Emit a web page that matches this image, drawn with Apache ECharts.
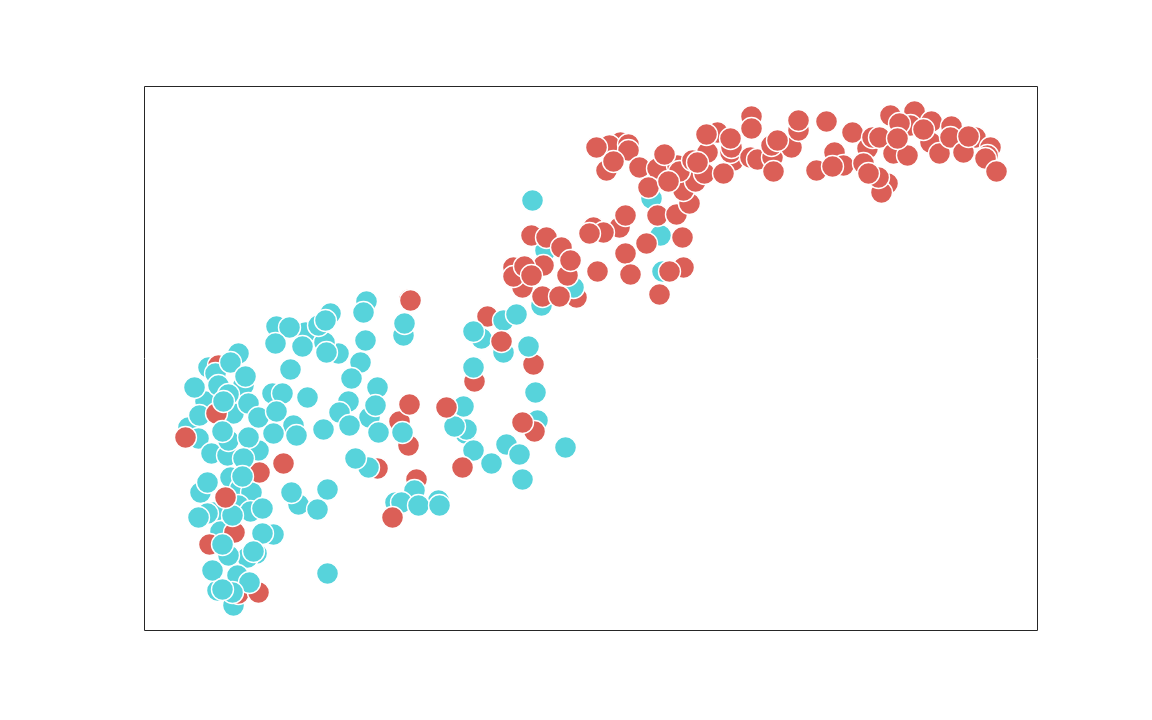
<!DOCTYPE html>
<html>
<head>
<meta charset="utf-8">
<title>scatter</title>
<style>
html,body{margin:0;padding:0;background:#fff}
#chart{width:1152px;height:720px}
</style>
</head>
<body>
<div id="chart"></div>
<script src="https://cdn.jsdelivr.net/npm/echarts@6/dist/echarts.min.js"></script>
<script>
// values, layers are listed bottom to top
var tealBack = [[132,304],[161,298],[186,317],[194,277],[180,288],[222,329],[64,263],[94,277],[99,245],[44,203],[54,192],[61,229],[55,215],[89,217],[104,227],[114,180],[67,177],[83,175],[128,237],[114,213],[149,205],[204,229],[195,218],[225,213],[233,243],[234,198],[259,295],[251,128],[294,130],[154,126],[86,153],[96,142],[107,138],[56,138],[69,118],[63,117],[94,125],[106,119],[76,99],[129,96],[112,77],[103,73],[84,75],[93,55],[73,40],[89,25],[68,60],[401,380],[397,325],[337,292],[359,278],[319,224],[321,197],[322,201],[393,210],[329,180],[516,395],[518,359],[507,432]];
var redMid = [[74,265],[72,217],[139,167],[115,158],[233,162],[272,151],[90,98],[65,86],[94,37],[114,38],[255,209],[264,185],[343,314],[432,333],[330,249],[389,266]];
var tealFront = [[145,303],[131,287],[158,284],[174,305],[181,310],[182,278],[219,318],[221,290],[216,268],[207,252],[231,225],[205,205],[179,201],[258,198],[260,307],[146,261],[163,233],[138,237],[132,219],[129,197],[152,195],[71,257],[86,268],[101,254],[50,243],[74,245],[84,236],[79,229],[84,190],[78,199],[104,193],[99,172],[224,163],[211,172],[270,140],[257,128],[274,125],[295,125],[147,138],[173,121],[183,141],[183,57],[98,154],[63,148],[118,122],[88,115],[54,113],[118,97],[78,86],[109,79],[105,48],[88,38],[78,41],[388,430],[429,343],[359,310],[372,316],[329,299],[384,284],[329,263],[391,238],[310,204],[347,167],[362,186],[375,176],[378,151],[421,183]];
var redFront = [[41,193],[81,133],[248,113],[265,331],[266,330],[265,226],[302,223],[318,163],[390,199],[378,208],[357,289],[387,395],[402,393],[399,365],[423,355],[417,383],[426,370],[369,363],[378,343],[369,354],[380,364],[387,355],[398,334],[415,334],[453,359],[449,403],[475,403],[459,398],[445,397],[481,415],[481,377],[486,356],[502,387],[538,393],[539,363],[525,359],[515,336],[513,415],[532,416],[545,427],[462,460],[476,488],[465,485],[452,483],[484,486],[484,480],[469,469],[495,463],[513,462],[533,465],[520,476],[539,440],[551,449],[504,443],[535,459],[548,470],[560,457],[563,478],[524,449],[553,468],[573,498],[562,496],[589,470],[586,478],[587,483],[586,492],[579,457],[607,514],[607,502],[606,473],[613,471],[628,473],[629,459],[627,485],[647,483],[633,490],[654,500],[654,510],[682,509],[708,498],[690,478],[699,465],[672,460],[688,464],[723,482],[719,467],[743,447],[737,438],[734,453],[724,457],[728,493],[735,493],[746,515],[749,477],[763,475],[770,519],[766,505],[755,507],[753,492],[786,488],[795,477],[787,509],[779,501],[807,504],[806,493],[831,493],[819,478],[824,494],[846,483],[843,475],[841,472],[852,459]];

var teal = '#57d3db';
var red = '#db5f57';

function layer(points, color){
	return {
		type: 'scatter',
		data: points,
		symbol: 'circle',
		symbolSize: 22,
		silent: true,
		animation: false,
		itemStyle: {
			color: color,
			opacity: 1,
			borderColor: '#fff',
			borderWidth: 1.4
		}
	};
}

var myChart = echarts.init(document.getElementById('chart'));
myChart.setOption({
	backgroundColor: '#fff',
	animation: false,
	grid: {
		show: true,
		left: 144.5,
		top: 86.5,
		width: 893,
		height: 544,
		backgroundColor: 'transparent',
		borderColor: '#262626',
		borderWidth: 1
	},
	xAxis: { type: 'value', min: 0, max: 893, show: false, splitLine: { show: false } },
	yAxis: { type: 'value', min: 0, max: 544, show: false, splitLine: { show: false } },
	series: [
		layer(tealBack, teal),
		layer(redMid, red),
		layer(tealFront, teal),
		layer(redFront, red)
	]
});
</script>
</body>
</html>
